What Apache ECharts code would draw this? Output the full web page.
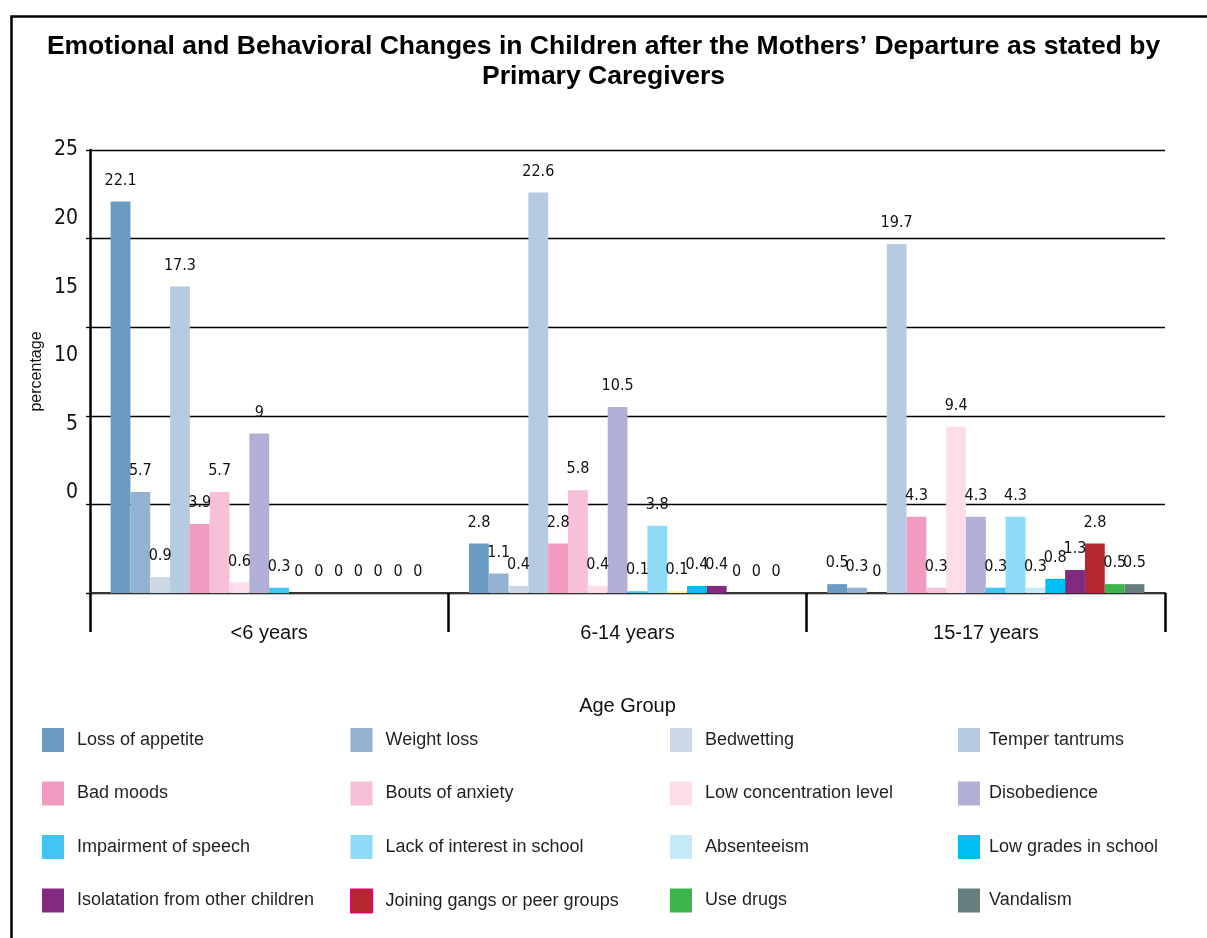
<!DOCTYPE html>
<html>
<head>
<meta charset="utf-8">
<script src="https://cdn.jsdelivr.net/npm/echarts@6/dist/echarts.min.js"></script>
<style>
html,body{margin:0;padding:0;background:#fff;}
#main{width:1207px;height:938px;}
</style>
</head>
<body>
<div id="main"></div>
<script>
const categories = ['<6 years', '6-14 years', '15-17 years'];
const seriesNames = [
  'Loss of appetite', 'Weight loss', 'Bedwetting', 'Temper tantrums',
  'Bad moods', 'Bouts of anxiety', 'Low concentration level', 'Disobedience',
  'Impairment of speech', 'Lack of interest in school', 'Absenteeism', 'Low grades in school',
  'Isolatation from other children', 'Joining gangs or peer groups', 'Use drugs', 'Vandalism'
];
const lossOfAppetite = [22.1, 2.8, 0.5];
const weightLoss = [5.7, 1.1, 0.3];
const bedwetting = [0.9, 0.4, 0];
const temperTantrums = [17.3, 22.6, 19.7];
const badMoods = [3.9, 2.8, 4.3];
const boutsOfAnxiety = [5.7, 5.8, 0.3];
const lowConcentration = [0.6, 0.4, 9.4];
const disobedience = [9, 10.5, 4.3];
const impairmentOfSpeech = [0.3, 0.1, 0.3];
const lackOfInterest = [0, 3.8, 4.3];
const absenteeism = [0, 0.1, 0.3];
const lowGrades = [0, 0.4, 0.8];
const isolation = [0, 0.4, 1.3];
const joiningGangs = [0, 0, 2.8];
const useDrugs = [0, 0, 0.5];
const vandalism = [0, 0, 0.5];
const yTickLabels = [0, 5, 10, 15, 20, 25];

const seriesValues = [lossOfAppetite, weightLoss, bedwetting, temperTantrums, badMoods, boutsOfAnxiety,
  lowConcentration, disobedience, impairmentOfSpeech, lackOfInterest, absenteeism, lowGrades,
  isolation, joiningGangs, useDrugs, vandalism];
const colors = ['#6a9bc3', '#93b1d0', '#ccd8e6', '#b6cae1', '#f39ac1', '#f7c0d9', '#fcdde9', '#b3b0d7',
  '#40c6f1', '#8fdaf6', '#c6e9f8', '#00bff2', '#812a7f', '#b7272f', '#3bb54a', '#667f7e'];

const narrow = "'DejaVu Sans Condensed', 'Liberation Sans Narrow', 'Liberation Sans', sans-serif";
const sans = "'Liberation Sans', Arial, sans-serif";

const series = seriesNames.map((name, i) => ({
  name: name,
  type: 'bar',
  yAxisIndex: 0,
  barGap: '0%',
  barCategoryGap: '11.5%',
  itemStyle: { color: colors[i] },
  label: {
    show: true, position: 'top', distance: 13,
    fontFamily: narrow, fontSize: 16, color: '#111'
  },
  data: seriesValues[i].map((v, j) => (name === 'Absenteeism' && j === 1)
    ? { value: v, itemStyle: { color: '#fff48f' } } : v)
}));

const colX = [42, 350, 670, 958];
const legends = colX.map((x, c) => ({
  orient: 'vertical',
  left: x, top: 728,
  padding: 0,
  itemWidth: 22, itemHeight: 24, itemGap: 29.5,
  icon: 'rect',
  selectedMode: false,
  textStyle: { fontFamily: sans, fontSize: 18, color: '#231f20', padding: [0, 0, 0, c === 3 ? 4 : 8] },
  data: [0, 1, 2, 3].map(r => {
    const n = seriesNames[r * 4 + c];
    return n === 'Joining gangs or peer groups'
      ? { name: n, itemStyle: { borderColor: '#e4007f', borderWidth: 1 } } : { name: n };
  })
}));

const chart = echarts.init(document.getElementById('main'), null, { renderer: 'canvas' });
chart.setOption({
  backgroundColor: '#fff',
  animation: false,
  title: {
    text: 'Emotional and Behavioral Changes in Children after the Mothers’ Departure as stated by\nPrimary Caregivers',
    left: 'center', top: 27,
    padding: [5, 5, 5, 25],
    textStyle: { fontFamily: sans, fontWeight: 'bold', fontSize: 26.5, lineHeight: 30, color: '#000' }
  },
  graphic: [{
    type: 'rect', left: 9, top: 14, silent: true,
    shape: { width: 1300, height: 1000 },
    style: { fill: 'none', stroke: '#000', lineWidth: 2.5 }
  }],
  legend: legends,
  grid: { left: 90, right: 42, top: 150, bottom: 345, containLabel: false },
  xAxis: {
    type: 'category',
    data: categories,
    name: 'Age Group',
    nameLocation: 'middle',
    nameGap: 103,
    nameTextStyle: { fontFamily: sans, fontSize: 20, color: '#111' },
    axisLine: { show: true, lineStyle: { color: '#333', width: 2 } },
    axisTick: { show: true, length: 39, interval: 0, lineStyle: { color: '#000', width: 2.5 } },
    axisLabel: { fontFamily: sans, fontSize: 20, color: '#111', margin: 30, interval: 0 }
  },
  yAxis: [{
    type: 'value',
    min: 0, max: 25, interval: 5,
    name: 'percentage',
    nameLocation: 'middle',
    nameGap: 45,
    nameRotate: 90,
    nameTextStyle: { fontFamily: sans, fontSize: 16, color: '#111' },
    axisLine: { show: true, lineStyle: { color: '#000', width: 2.5 } },
    axisTick: { show: true, length: 4, lineStyle: { color: '#000', width: 1.3 } },
    axisLabel: { show: false },
    splitLine: { show: true, lineStyle: { color: '#000', width: 1.3 } }
  }, {
    type: 'value',
    position: 'left',
    min: -7.3, max: 25,
    axisLine: { show: false },
    axisTick: { show: false },
    splitLine: { show: false },
    axisLabel: {
      customValues: yTickLabels,
      fontFamily: narrow, fontSize: 21, color: '#111', margin: 12
    }
  }],
  series: series
});
</script>
</body>
</html>
